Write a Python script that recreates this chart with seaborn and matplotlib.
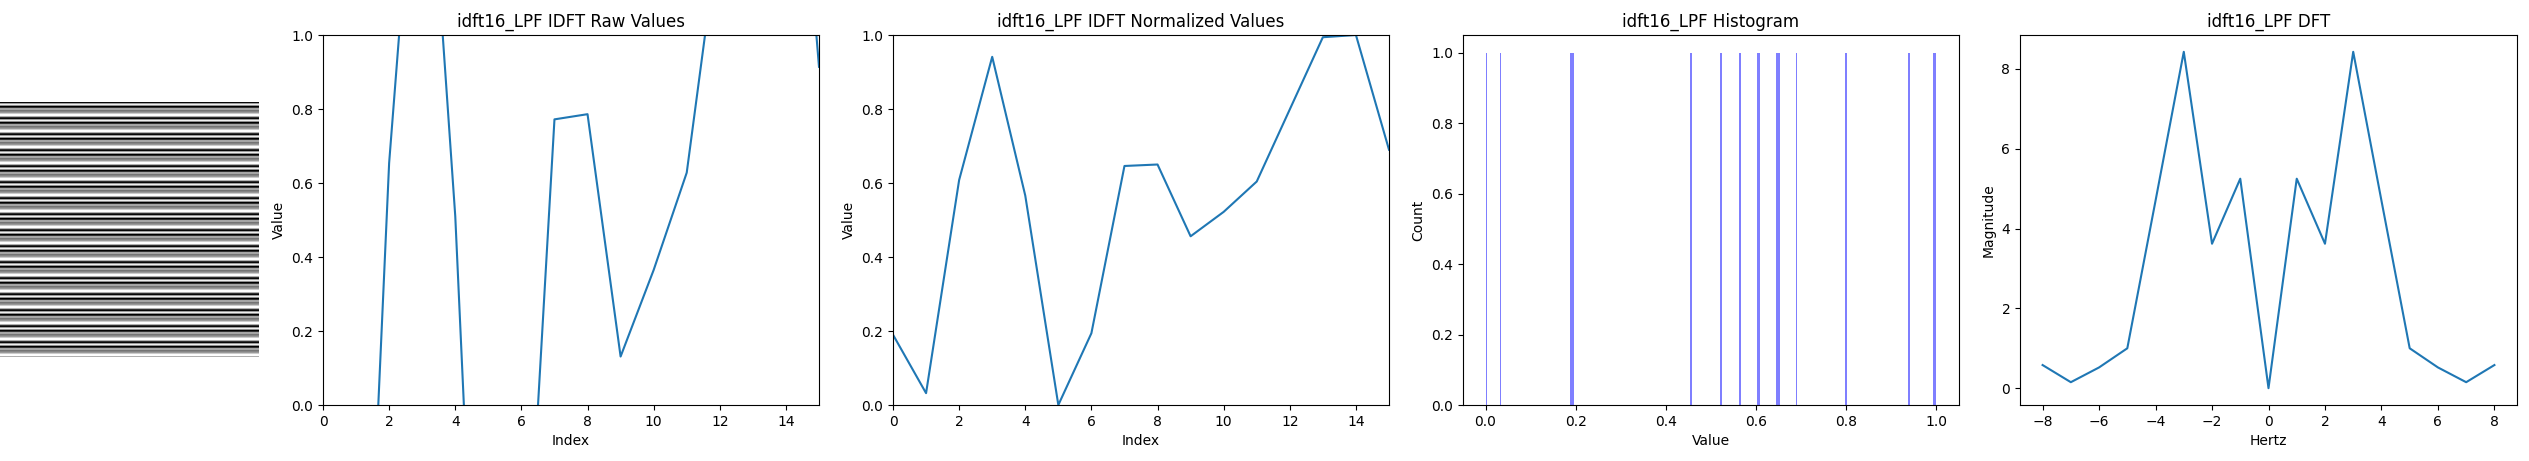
import numpy as np
import matplotlib
matplotlib.use("Agg")
import matplotlib.pyplot as plt
import seaborn as sns

# values
name = 'idft16_LPF'
index = list(range(16))
raw_values = [-0.78, -1.34, 0.654, 1.80, 0.51, -1.45, -0.78, 0.772,
              0.786, 0.131, 0.365, 0.628, 1.30, 1.98, 2.0, 0.914]
norm_values = [0.190, 0.032, 0.608, 0.941, 0.566, 0.0, 0.194, 0.646,
               0.650, 0.456, 0.522, 0.604, 0.799, 0.994, 1.0, 0.690]
hertz = list(range(-8, 9))
magnitude = [0.58, 0.15, 0.52, 1.0, 4.7, 8.43, 3.62, 5.25, 0.0,
             5.25, 3.62, 8.43, 4.7, 1.0, 0.52, 0.15, 0.58]

W, H = 2529, 461
fig = plt.figure(figsize=(W / 100, H / 100), dpi=100)


def px_axes(left, top, right, bottom):
    return fig.add_axes([left / W, 1 - bottom / H, (right - left) / W, (bottom - top) / H])


# stripe image: each row is one normalized sample, repeated
ax_img = px_axes(0, 102, 259, 357)
img = np.tile(np.array(norm_values)[:, None], (16, 256))
ax_img.imshow(img, cmap='gray', aspect='auto', vmin=0, vmax=1)
ax_img.axis('off')

# raw values
ax_raw = px_axes(323, 35, 819, 405)
sns.lineplot(x=index, y=raw_values, ax=ax_raw)
ax_raw.set_xlim(0, 15)
ax_raw.set_ylim(0, 1)
ax_raw.set_title(f'{name} IDFT Raw Values')
ax_raw.set_xlabel('Index')
ax_raw.set_ylabel('Value')

# normalized values
ax_norm = px_axes(893, 35, 1389, 405)
sns.lineplot(x=index, y=norm_values, ax=ax_norm)
ax_norm.set_xlim(0, 15)
ax_norm.set_ylim(0, 1)
ax_norm.set_title(f'{name} IDFT Normalized Values')
ax_norm.set_xlabel('Index')
ax_norm.set_ylabel('Value')

# histogram
ax_hist = px_axes(1463, 35, 1959, 405)
sns.histplot(x=norm_values, bins=256, binrange=(0, 1), color='blue',
             alpha=0.5, linewidth=0, ax=ax_hist)
ax_hist.set_title(f'{name} Histogram')
ax_hist.set_xlabel('Value')
ax_hist.set_ylabel('Count')

# DFT magnitude
ax_dft = px_axes(2020, 35, 2517, 405)
sns.lineplot(x=hertz, y=magnitude, ax=ax_dft)
ax_dft.set_title(f'{name} DFT')
ax_dft.set_xlabel('Hertz')
ax_dft.set_ylabel('Magnitude')

plt.savefig('out.png', dpi=100)
